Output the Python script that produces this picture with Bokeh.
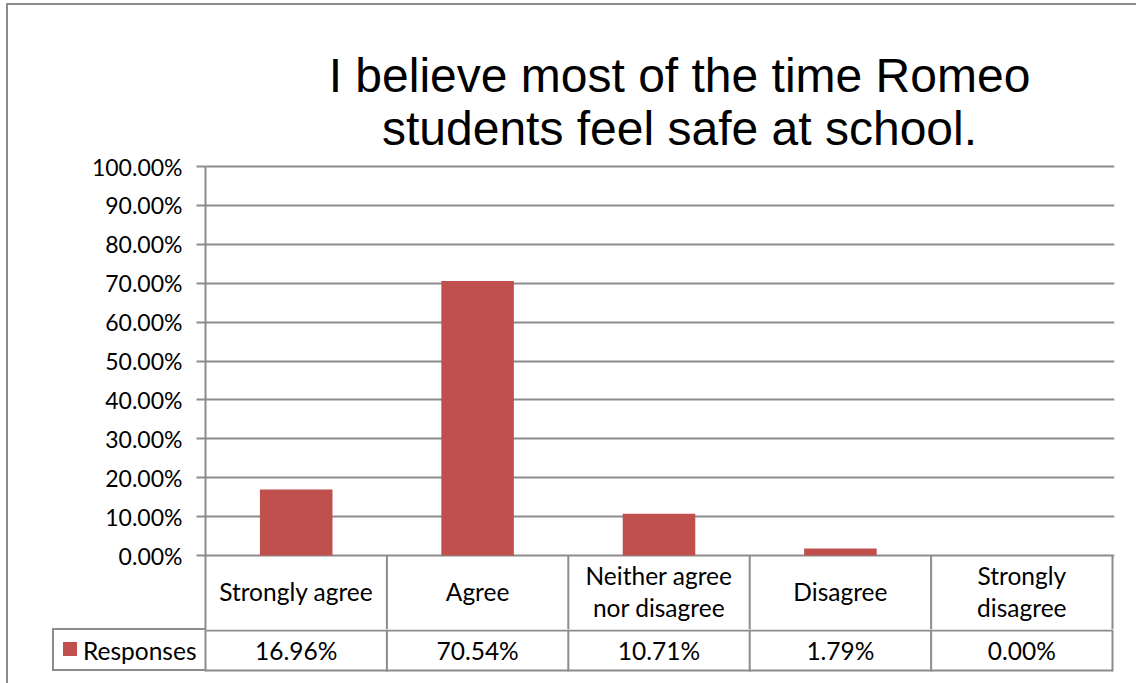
from bokeh.plotting import figure
from bokeh.layouts import column
from bokeh.models import ColumnDataSource, Range1d, FixedTicker, PrintfTickFormatter
from bokeh.embed import file_html
from bokeh.resources import INLINE
from bokeh.core.properties import value

# ---------------- data ----------------
categories = ["Strongly agree", "Agree", "Neither agree nor disagree", "Disagree", "Strongly disagree"]
category_lines = [["Strongly agree"], ["Agree"], ["Neither agree", "nor disagree"], ["Disagree"], ["Strongly", "disagree"]]
responses = [16.96, 70.54, 10.71, 1.79, 0.00]
value_labels = ["16.96%", "70.54%", "10.71%", "1.79%", "0.00%"]
y_ticks = [0, 10, 20, 30, 40, 50, 60, 70, 80, 90, 100]
series_name = "Responses"
title_lines = ["I believe most of the time Romeo", "students feel safe at school."]

# ---------------- layout (page pixels) ----------------
PW, PH = 1136, 683
FR_L, FR_R = 205, 1112          # plot area / table columns
Y100, ZERO_Y = 166, 555         # pixel rows of 100 % and 0 %
ROW_Y = 629                     # line between table rows
TBL_B = 670                     # bottom of table
TOP_H = 152                     # height of title strip
GRAY = "#8C8C8C"
RED = "#C0504D"
TXT_FONT = "Lato"
TXT_SIZE = "24.5px"

n = len(categories)
col_w = (FR_R - FR_L) / n
px_per_unit = (ZERO_Y - Y100) / 100.0
centers = [i + 0.5 for i in range(n)]
FRAME_R = FR_R + 2
x_end = n + (FRAME_R - FR_R) / col_w


def strip(height, x_range, y_range, y_axis=None):
    # frames of figures in a column are aligned with the main plot's frame
    f = figure(width=PW, height=height, output_backend="svg", toolbar_location=None,
               x_range=x_range, y_range=y_range, x_axis_location=None, y_axis_location=y_axis,
               min_border_left=FR_L, min_border_right=PW - FRAME_R,
               min_border_top=0, min_border_bottom=0)
    f.grid.visible = False
    f.outline_line_color = None
    f.background_fill_alpha = 0
    f.border_fill_alpha = 0
    return f


# ---------- title strip (x in page pixels) ----------
t = strip(TOP_H, Range1d(FR_L, FRAME_R), Range1d(TOP_H, 0))
for ln, base in zip(title_lines, [75, 128]):
    t.text(x=[679], y=[base], text=[ln], text_align="center", text_baseline="alphabetic",
           text_font=value("Liberation Sans"), text_font_size="48px", text_color="black")

# ---------- main plot (bars + category row of the data table) ----------
MID_H = ROW_Y - TOP_H
FRAME_TOP = Y100 - 2
y_start = -(ROW_Y - ZERO_Y) / px_per_unit
y_end = 100 + (Y100 - FRAME_TOP) / px_per_unit
p = figure(width=PW, height=MID_H, output_backend="svg", toolbar_location=None,
           x_range=Range1d(0, x_end), y_range=Range1d(y_start, y_end),
           x_axis_location=None,
           min_border_left=FR_L, min_border_right=PW - FRAME_R,
           min_border_top=FRAME_TOP - TOP_H, min_border_bottom=0)
p.outline_line_color = None
p.background_fill_alpha = 0
p.border_fill_alpha = 0

src = ColumnDataSource(dict(x=centers, val=responses, lab=value_labels))
p.vbar(x="x", top="val", bottom=0, width=0.4, source=src, fill_color=RED, line_color=None)

p.xgrid.visible = False
p.ygrid.ticker = FixedTicker(ticks=y_ticks)
p.ygrid.grid_line_color = GRAY
p.ygrid.grid_line_width = 2
yax = p.yaxis[0]
yax.ticker = FixedTicker(ticks=y_ticks)
yax.formatter = PrintfTickFormatter(format="%.2f%%")
yax.bounds = (y_start, 100)
yax.axis_line_color = GRAY
yax.axis_line_width = 2
yax.major_tick_line_color = GRAY
yax.major_tick_line_width = 2
yax.major_tick_out = 9
yax.major_tick_in = 0
yax.minor_tick_line_color = None
yax.major_label_standoff = 14
yax.major_label_text_font = TXT_FONT
yax.major_label_text_font_size = "23px"
yax.major_label_text_color = "black"


def uy(py):
    return (ZERO_Y - py) / px_per_unit


cx, cy, ct = [], [], []
for cc, lines in zip(centers, category_lines):
    ys = [591] if len(lines) == 1 else [575, 607]
    for ln, yy in zip(lines, ys):
        cx.append(cc); cy.append(uy(yy)); ct.append(ln)
p.text(x=cx, y=cy, text=ct, text_align="center", text_baseline="middle",
       text_font=value(TXT_FONT), text_font_size=TXT_SIZE, text_color="black")
bx = [float(i) for i in range(1, n + 1)]
p.segment(x0=bx, y0=[0.0] * n, x1=bx, y1=[y_start - 1] * n, line_color=GRAY, line_width=2)

# ---------- bottom strip: value row of the data table ----------
BOT_H = PH - ROW_Y
ROW_MID = 650
c = strip(BOT_H, Range1d(0, x_end), Range1d(PH, ROW_Y), y_axis="left")
hl_y = [ROW_Y + 1, TBL_B]
c.segment(x0=[0.0] * 2, y0=hl_y, x1=[n] * 2, y1=hl_y, line_color=GRAY, line_width=2)
c.segment(x0=bx, y0=[ROW_Y] * n, x1=bx, y1=[TBL_B + 1] * n, line_color=GRAY, line_width=2)
c.text(x="x", y=ROW_MID, text="lab", source=src, text_align="center", text_baseline="middle",
       text_font=value(TXT_FONT), text_font_size=TXT_SIZE, text_color="black")
# series name in the table's key cell, as the strip's axis label
cax = c.yaxis[0]
cax.ticker = FixedTicker(ticks=[ROW_MID])
cax.major_label_overrides = {ROW_MID: series_name}
cax.bounds = (ROW_Y, TBL_B + 1)
cax.axis_line_color = GRAY
cax.axis_line_width = 2
cax.major_tick_line_color = None
cax.major_tick_out = 0
cax.major_tick_in = 0
cax.minor_tick_line_color = None
cax.major_label_standoff = 9
cax.major_label_text_font = TXT_FONT
cax.major_label_text_font_size = TXT_SIZE
cax.major_label_text_color = "black"

# outer chart border (left, top) and the key cell's frame + colour swatch,
# painted by the container behind the transparent figure margins
layers = [
    (GRAY, "6px 3px", "1130px 2px"),      # chart border, top
    (GRAY, "6px 3px", "2px 680px"),       # chart border, left
    (GRAY, "52px 628px", "154px 2px"),    # key cell, top
    (GRAY, "52px 669px", "154px 2px"),    # key cell, bottom
    (GRAY, "52px 628px", "2px 43px"),     # key cell, left
    (RED, "63px 642px", "14px 14px"),     # series colour swatch
]
bg = ", ".join("linear-gradient(%s,%s) %s / %s no-repeat" % (col, col, pos, size)
               for col, pos, size in layers) + ", #FFFFFF"
layout = column(t, p, c, spacing=0, styles={"background": bg})
open("out.html", "w").write(file_html(layout, INLINE))
